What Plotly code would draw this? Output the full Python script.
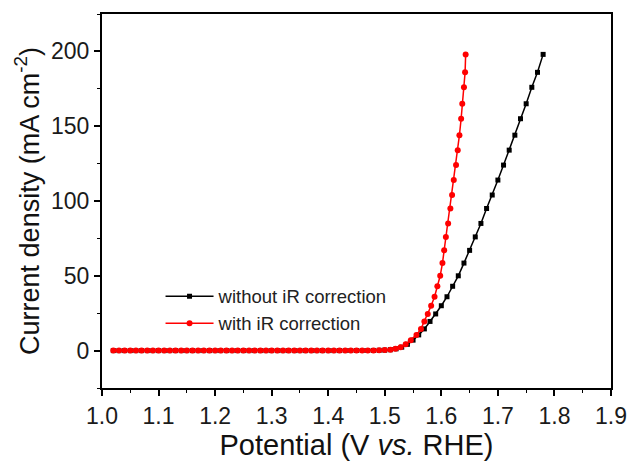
import plotly.graph_objects as go

# Potential without iR correction (V vs. RHE)
pot_without = [1.02, 1.03, 1.04, 1.05, 1.06, 1.07, 1.08, 1.09, 1.10, 1.11,
               1.12, 1.13, 1.14, 1.15, 1.16, 1.17, 1.18, 1.19, 1.20, 1.21,
               1.22, 1.23, 1.24, 1.25, 1.26, 1.27, 1.28, 1.29, 1.30, 1.31,
               1.32, 1.33, 1.34, 1.35, 1.36, 1.37, 1.38, 1.39, 1.40, 1.41,
               1.42, 1.43, 1.44, 1.45, 1.46, 1.47, 1.48, 1.49, 1.50, 1.51,
               1.52, 1.53, 1.54, 1.55, 1.56, 1.57, 1.58, 1.59, 1.60, 1.61,
               1.62, 1.63, 1.64, 1.65, 1.66, 1.67, 1.68, 1.69, 1.70, 1.71,
               1.72, 1.73, 1.74, 1.75, 1.76, 1.77, 1.78]

# Potential with iR correction (V vs. RHE)
pot_with = [1.02, 1.03, 1.04, 1.05, 1.06, 1.07, 1.08, 1.09, 1.10, 1.11,
            1.12, 1.13, 1.14, 1.15, 1.16, 1.17, 1.18, 1.19, 1.20, 1.21,
            1.22, 1.23, 1.24, 1.25, 1.26, 1.27, 1.28, 1.29, 1.30, 1.31,
            1.32, 1.33, 1.34, 1.35, 1.36, 1.37, 1.38, 1.39, 1.40, 1.41,
            1.42, 1.43, 1.44, 1.45, 1.46, 1.47, 1.48, 1.49, 1.50, 1.510,
            1.519, 1.528, 1.537, 1.546, 1.556, 1.564, 1.570, 1.576, 1.582, 1.588,
            1.593, 1.598, 1.602, 1.605, 1.608, 1.612, 1.616, 1.619, 1.622, 1.626,
            1.629, 1.632, 1.635, 1.637, 1.640, 1.642, 1.643]

# Current density (mA cm^-2)
current = [0, 0, 0, 0, 0, 0, 0, 0, 0, 0,
           0, 0, 0, 0, 0, 0, 0, 0, 0, 0,
           0, 0, 0, 0, 0, 0, 0, 0, 0, 0,
           0, 0, 0, 0, 0, 0, 0, 0, 0, 0.01,
           0.02, 0.03, 0.04, 0.05, 0.05, 0.07, 0.1, 0.18, 0.32, 0.6,
           1.2, 2.3, 4.2, 7, 10.5, 14.5, 19.5, 24.5, 30, 36,
           43, 50, 58.5, 67, 76, 85, 95, 104, 114, 124,
           134, 144, 155, 165, 176, 186, 198]

x_ticks = [1.0, 1.1, 1.2, 1.3, 1.4, 1.5, 1.6, 1.7, 1.8, 1.9]
y_ticks = [0, 50, 100, 150, 200]

FONT = "Liberation Sans, Arial, sans-serif"

fig = go.Figure()
fig.add_trace(go.Scatter(
    x=pot_without, y=current, mode="lines+markers",
    name="without iR correction",
    line=dict(color="black", width=1.5),
    marker=dict(symbol="square", size=5, color="black"),
))
fig.add_trace(go.Scatter(
    x=pot_with, y=current, mode="lines+markers",
    name="with iR correction",
    line=dict(color="#ff0000", width=1.5),
    marker=dict(symbol="circle", size=6, color="#ff0000"),
))

axis_common = dict(
    showline=True, linecolor="black", linewidth=2, mirror=True,
    ticks="outside", ticklen=6, tickwidth=1.5, tickcolor="black",
    showgrid=False, zeroline=False,
    tickfont=dict(family=FONT, size=23, color="#1a1a1a"),
)

fig.update_xaxes(
    range=[1.0, 1.9], tickvals=x_ticks, tickformat=".1f",
    minor=dict(dtick=0.05, ticks="outside", ticklen=3, tickwidth=1.2, tickcolor="black", showgrid=False),
    title=dict(text="Potential (V <i>vs.</i> RHE)", font=dict(family=FONT, size=29, color="#111"), standoff=2),
    **axis_common,
)
fig.update_yaxes(
    range=[-25, 225], tickvals=y_ticks,
    minor=dict(dtick=25, ticks="outside", ticklen=3, tickwidth=1.2, tickcolor="black", showgrid=False),
    title=dict(text="Current density (mA cm<sup>-2</sup>)", font=dict(family=FONT, size=27, color="#111"), standoff=4),
    **axis_common,
)

fig.update_layout(
    width=639, height=463,
    margin=dict(l=102, r=22, t=13, b=69),
    paper_bgcolor="white", plot_bgcolor="white",
    showlegend=True,
    legend=dict(x=0.115, y=0.295, xanchor="left", yanchor="top",
                bgcolor="rgba(0,0,0,0)", itemwidth=48,
                font=dict(family=FONT, size=18.5, color="#222"),
                tracegroupgap=0),
)

fig.write_html("out.html")
